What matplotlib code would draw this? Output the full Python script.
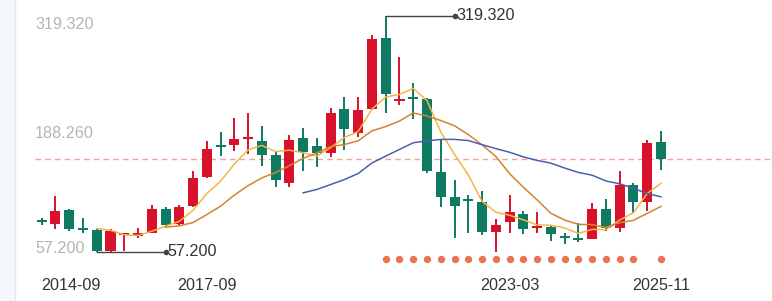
import matplotlib
matplotlib.use('Agg')
import matplotlib.pyplot as plt
from matplotlib.patches import Rectangle
import numpy as np
import pandas as pd

plt.rcParams['font.family'] = ['Liberation Sans', 'DejaVu Sans']

# quarterly OHLC, 2014-09 .. 2025-11
opens = [91.0, 88.3, 103.8, 82.0, 81.6, 58.6, 76.1, 74.9, 78.6, 104.9,
         88.3, 108.6, 140.7, 174.5, 175.9, 182.9, 180.6, 164.8, 133.4, 184.0,
         174.8, 167.3, 215.8, 189.5, 215.5, 294.2, 224.3, 229.4, 227.2, 145.9,
         117.9, 116.3, 112.7, 79.4, 90.8, 99.7, 83.8, 85.3, 74.9, 71.6,
         71.9, 105.2, 83.5, 131.5, 112.7, 178.9]
highs = [94.6, 119.3, 104.6, 94.9, 83.8, 83.0, 78.3, 83.8, 109.3, 107.1,
         109.3, 147.4, 180.3, 190.6, 205.8, 211.4, 197.3, 168.4, 187.0, 194.4,
         183.3, 217.2, 229.4, 229.4, 297.9, 319.32, 273.1, 245.0, 228.0, 181.4,
         137.1, 120.4, 124.5, 93.8, 120.4, 102.7, 101.6, 87.1, 77.9, 89.0,
         111.9, 116.3, 147.4, 134.1, 181.4, 191.7]
lows = [87.1, 82.7, 80.2, 78.3, 57.2, 57.5, 58.6, 72.7, 78.3, 84.9,
        86.8, 107.4, 139.3, 163.7, 169.6, 165.9, 152.6, 129.6, 129.6, 147.4,
        151.8, 162.2, 170.3, 185.1, 214.7, 211.0, 219.9, 204.4, 144.5, 107.4,
        72.4, 77.9, 76.1, 57.5, 78.6, 77.2, 77.9, 69.7, 66.1, 68.0,
        71.3, 80.8, 79.7, 100.1, 103.0, 148.1]
closes = [90.6, 103.0, 82.4, 81.4, 58.6, 80.8, 78.3, 78.6, 104.9, 87.1,
          107.1, 139.6, 171.4, 173.5, 182.5, 185.1, 164.5, 137.1, 181.4, 168.4,
          166.7, 211.0, 193.6, 214.7, 293.1, 232.4, 226.5, 226.5, 147.4, 118.5,
          108.2, 113.4, 79.7, 86.8, 101.6, 82.4, 86.0, 77.2, 72.4, 71.0,
          104.9, 83.5, 131.5, 113.0, 177.8, 160.4]
# signal dots shown under the candles
signal = [0] * 25 + [1] * 19 + [0, 1]

date_labels = ['2014-09', '2017-09', '2023-03', '2025-11']
date_index = [0, 12, 34, 45]

df = pd.DataFrame({'open': opens, 'high': highs, 'low': lows, 'close': closes})
df['ma5'] = df['close'].rolling(5).mean()
df['ma10'] = df['close'].rolling(10).mean()
df['ma20'] = df['close'].rolling(20).mean()
x = np.arange(len(df))

UP = '#d8122a'
DOWN = '#0e7a62'

fig = plt.figure(figsize=(7.72, 3.01), dpi=100)
ax = fig.add_axes([0, 0, 1, 1])
ax.set_xlim(-3.03, 53.07)
ax.set_ylim(2.85, 336.7)
ax.axis('off')

# light side strip on the left
fig.patches.append(Rectangle((0, 0), 14.5 / 772, 1, transform=fig.transFigure,
                             facecolor='#f4f7fc', edgecolor='none', zorder=0))
fig.lines.append(plt.Line2D([14.5 / 772, 14.5 / 772], [0, 1], transform=fig.transFigure,
                            color='#e1e5ec', lw=1))

# last close reference line
ax.hlines(df['close'].iloc[-1], -0.5, 53.07, colors='#f2a49c', lw=1,
          linestyles=(0, (4, 3)), zorder=1)

# candles
colors = [UP if c >= o else DOWN for o, c in zip(df['open'], df['close'])]
ax.vlines(x, df['low'], df['high'], colors=colors, lw=1.4, zorder=2)
body = (df['close'] - df['open']).abs().clip(lower=2.0)
bottom = np.minimum(df['open'], df['close'])
ax.bar(x, body, bottom=bottom, width=0.73, color=colors, zorder=3)

# moving averages
ax.plot(x, df['ma5'], color='#f3b646', lw=1.1, zorder=4)
ax.plot(x, df['ma10'], color='#d4832f', lw=1.1, zorder=4)
ax.plot(x, df['ma20'], color='#4d60aa', lw=1.1, zorder=4)

# max / min markers
for idx, val in [(int(df['high'].idxmax()), df['high'].max()),
                 (int(df['low'].idxmin()), df['low'].min())]:
    ax.plot([idx, idx + 5], [val, val], color='#444444', lw=1, zorder=5)
    ax.plot(idx + 5, val, 'o', color='#444444', ms=3, zorder=5)
    ax.annotate(f'{val:.3f}', xy=(idx + 5, val), xytext=(1.5, 0),
                textcoords='offset points', va='center', ha='left',
                fontsize=11.6, color='#333333')

# signal dots
sx = [i for i, s in enumerate(signal) if s]
ax.scatter(sx, [1 - 259 / 301] * len(sx), s=28, color='#e8734f',
           transform=ax.get_xaxis_transform(), zorder=5, linewidths=0)

# price labels: min, mid, max
lo, hi = df['low'].min(), df['high'].max()
for val, ypix in [(hi, 24.5), ((lo + hi) / 2, 133.3), (lo, 248.7)]:
    fig.text(35 / 772, 1 - ypix / 301, f'{val:.3f}', ha='left', va='center',
             fontsize=11.6, color='#b4b4b4')

# date labels
for lab, i in zip(date_labels, date_index):
    ha = 'left' if i == 0 else 'center'
    ax.text(i, 1 - 285 / 301, lab, ha=ha, va='center', fontsize=11.6,
            color='#333333', transform=ax.get_xaxis_transform())

fig.savefig('out.png', dpi=100)
plt.close(fig)
